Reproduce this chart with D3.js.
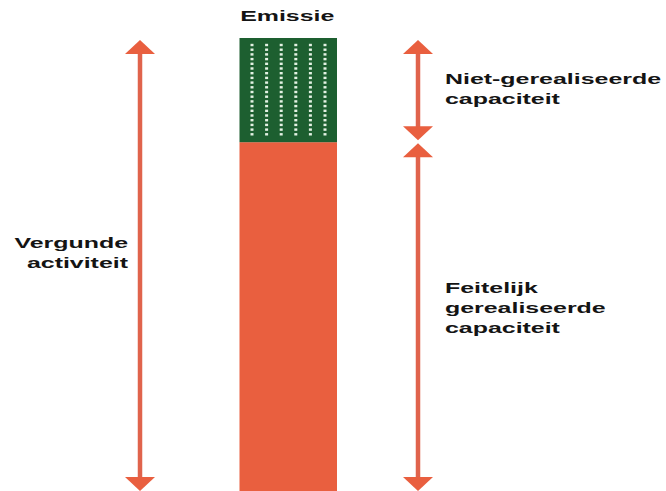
<!DOCTYPE html>
<html>
<head>
<meta charset="utf-8">
<script src="https://cdn.jsdelivr.net/npm/d3@7"></script>
<style>
    html, body { margin: 0; padding: 0; background: #fff; }
    svg { display: block; }
</style>
</head>
<body>
<script>
// stacked share of the permitted activity (percent)
const segments = ["Feitelijk gerealiseerde capaciteit", "Niet-gerealiseerde capaciteit"];
const shares = [77, 23];
const barLabel = "Emissie";
const leftLabel = ["Vergunde", "activiteit"];
const rightLabels = [["Feitelijk", "gerealiseerde", "capaciteit"], ["Niet-gerealiseerde", "capaciteit"]];

const width = 666,
    height = 491,
    orange = "#e95f3f",
    shaft = "#e0634c",
    green = "#1d5f30",
    stretch = 1.72; // the labels are drawn wide

const svg = d3.select("body")
    .append("svg")
    .attr("width", width)
    .attr("height", height);

const y = d3.scaleLinear()
    .domain([0, d3.sum(shares)])
    .range([height, 38]);

const x = d3.scaleBand()
    .domain([barLabel])
    .range([239.5, 337])
    .padding(0);

const stack = [];
let acc = 0;
shares.forEach((v, i) => {
    stack.push({name: segments[i], y0: acc, y1: acc + v, i: i});
    acc += v;
});

// bar
svg.selectAll("rect.seg")
    .data(stack)
    .enter().append("rect")
    .attr("class", "seg")
    .attr("x", x(barLabel))
    .attr("width", x.bandwidth())
    .attr("y", d => y(d.y1))
    .attr("height", d => y(d.y0) - y(d.y1))
    .attr("fill", d => d.i === 0 ? orange : green);

// dotted texture on the unrealised part
const upper = stack[1];
const rows = d3.range(y(upper.y1) + 7, y(upper.y0) - 5, 4.7);
const cols = d3.range(6).map(k => x(barLabel) + 12.5 + k * 14.6);
svg.append("g")
    .selectAll("rect")
    .data(d3.cross(cols, rows))
    .enter().append("rect")
    .attr("x", d => d[0] - 1.5)
    .attr("y", d => d[1] - 1.2)
    .attr("width", 3)
    .attr("height", 2.4)
    .attr("fill", "#e4f2e4");

// double headed arrows
function arrow(cx, y1, y2) {
    const g = svg.append("g");
    const hw = 15, hh = 14;
    g.append("line")
        .attr("x1", cx).attr("x2", cx)
        .attr("y1", y1 + hh - 1).attr("y2", y2 - hh + 1)
        .attr("stroke", shaft)
        .attr("stroke-width", 4.5);
    g.append("path")
        .attr("d", `M${cx},${y1}L${cx + hw},${y1 + hh}L${cx - hw},${y1 + hh}Z`)
        .attr("fill", orange);
    g.append("path")
        .attr("d", `M${cx},${y2}L${cx + hw},${y2 - hh}L${cx - hw},${y2 - hh}Z`)
        .attr("fill", orange);
}

arrow(140, y(acc) + 2, y(0));
arrow(418, y(acc) + 2, y(upper.y0) - 2);
arrow(418, y(stack[0].y1) + 1, y(0));

// labels
function label(lines, px, py, anchor) {
    const g = svg.append("g");
    lines.forEach((t, i) => {
        g.append("text")
            .attr("transform", `translate(${px},${py + i * 20}) scale(${stretch},1)`)
            .attr("text-anchor", anchor)
            .style("font-family", "'Liberation Sans', Arial, sans-serif")
            .style("font-weight", "bold")
            .style("font-size", "14.5px")
            .attr("fill", "#141414")
            .text(t);
    });
}

label([barLabel], x(barLabel) + x.bandwidth() / 2 - 1, 21, "middle");
label(leftLabel, 128, 248, "end");
label(rightLabels[1], 445, 84, "start");
label(rightLabels[0], 445, 293, "start");
</script>
</body>
</html>
